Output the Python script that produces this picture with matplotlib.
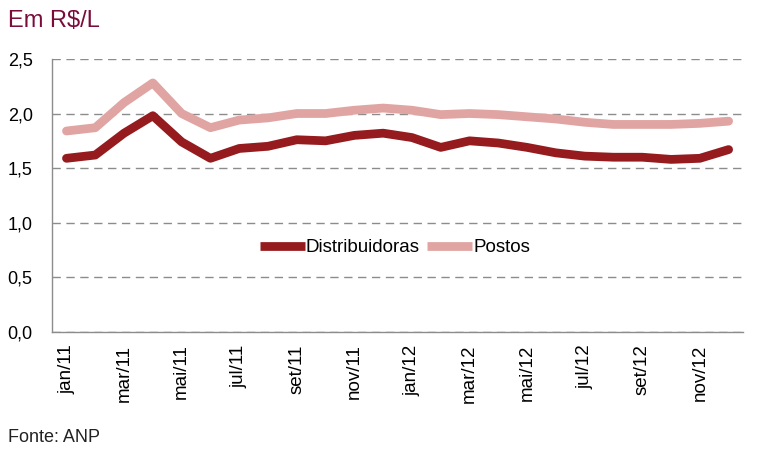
import numpy as np
import matplotlib
matplotlib.use("Agg")
import matplotlib.pyplot as plt
from matplotlib.ticker import FuncFormatter

plt.rcParams['font.family'] = ['Liberation Sans', 'DejaVu Sans']

# monthly prices, jan/11 .. dez/12 (R$/L)
months = ['jan/11', 'fev/11', 'mar/11', 'abr/11', 'mai/11', 'jun/11',
          'jul/11', 'ago/11', 'set/11', 'out/11', 'nov/11', 'dez/11',
          'jan/12', 'fev/12', 'mar/12', 'abr/12', 'mai/12', 'jun/12',
          'jul/12', 'ago/12', 'set/12', 'out/12', 'nov/12', 'dez/12']
distribuidoras = [1.59, 1.62, 1.82, 1.98, 1.74, 1.59, 1.68, 1.70, 1.76, 1.75, 1.80, 1.82,
                  1.78, 1.69, 1.75, 1.73, 1.69, 1.64, 1.61, 1.60, 1.60, 1.58, 1.59, 1.67]
postos = [1.84, 1.87, 2.10, 2.28, 2.00, 1.87, 1.94, 1.96, 2.00, 2.00, 2.03, 2.05,
          2.03, 1.99, 2.00, 1.99, 1.97, 1.95, 1.92, 1.90, 1.90, 1.90, 1.91, 1.93]

col_dist = '#951b1e'
col_post = '#e0a4a2'

fig = plt.figure(figsize=(7.66, 4.71), dpi=100)
ax = fig.add_axes([0.068, 0.295, 0.902, 0.58])

x = np.arange(len(months))
ax.plot(x, distribuidoras, color=col_dist, lw=6.3, solid_joinstyle='round',
        solid_capstyle='round', label='Distribuidoras', zorder=3)
ax.plot(x, postos, color=col_post, lw=6.3, solid_joinstyle='round',
        solid_capstyle='round', label='Postos', zorder=3)

ax.set_xlim(-0.5, len(months) - 0.5)
ax.set_ylim(0, 2.5)
ax.set_yticks(np.arange(0, 2.51, 0.5))
ax.yaxis.set_major_formatter(FuncFormatter(lambda v, p: f'{v:.1f}'.replace('.', ',')))
ax.set_xticks(x[::2])
ax.set_xticklabels(months[::2], rotation=90)

ax.grid(axis='y', color='#8c8c8c', linestyle=(0, (6, 4)), lw=1.0)
ax.set_axisbelow(True)
for s in ['top', 'right']:
    ax.spines[s].set_visible(False)
for s in ['left', 'bottom']:
    ax.spines[s].set_color('#8c8c8c')
    ax.spines[s].set_linewidth(1.0)
ax.tick_params(axis='both', length=0, labelsize=13, colors='black')
ax.tick_params(axis='x', pad=9, labelsize=13.5)
ax.tick_params(axis='y', pad=14)

leg = ax.legend(loc='center', bbox_to_anchor=(0.496, 0.308), ncol=2, frameon=False,
                fontsize=13.5, handlelength=2.4, handletextpad=0.05, columnspacing=0.4)
for h in leg.get_lines():
    h.set_solid_capstyle('butt')

fig.text(0.010, 0.955, 'Em R$/L', fontsize=17, color='#7a0c3c', va='center')
fig.text(0.010, 0.072, 'Fonte: ANP', fontsize=13, color='#222222', va='center')

fig.savefig('out.png', dpi=100)
